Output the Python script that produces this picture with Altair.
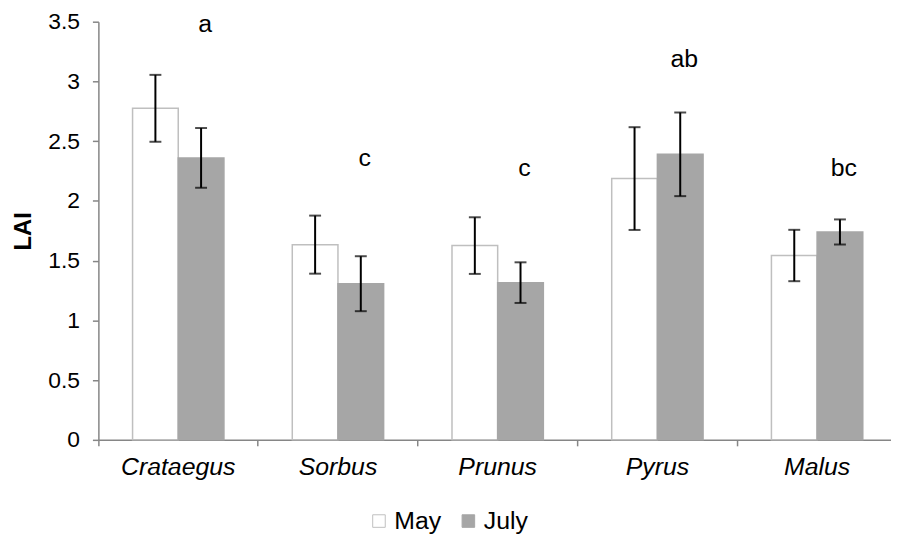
import altair as alt
import pandas as pd

categories = ["Crataegus", "Sorbus", "Prunus", "Pyrus", "Malus"]
series = ["May", "July"]
may_mean = [2.775, 1.634, 1.626, 2.187, 1.543]
may_err = [0.28, 0.243, 0.237, 0.43, 0.215]
july_mean = [2.36, 1.307, 1.316, 2.39, 1.74]
july_err = [0.25, 0.23, 0.17, 0.35, 0.105]
letters = ["a", "c", "c", "ab", "bc"]
letter_y = [3.41, 2.29, 2.21, 3.12, 2.21]
y_ticks = [0, 0.5, 1, 1.5, 2, 2.5, 3, 3.5]

rows = []
for i, c in enumerate(categories):
    for s, m, e in (("May", may_mean[i], may_err[i]), ("July", july_mean[i], july_err[i])):
        rows.append({"genus": c, "month": s, "lai": m, "lo": m - e, "hi": m + e})
df = pd.DataFrame(rows)
df_letters = pd.DataFrame({"genus": categories, "letter": letters, "ly": letter_y})

FONT = "Liberation Sans"
AX = "#868686"

xscale = alt.Scale(domain=categories, paddingInner=0.428, paddingOuter=0.214)
xoff = alt.XOffset("month:N", sort=series, scale=alt.Scale(domain=series, paddingInner=0, paddingOuter=0))
yscale = alt.Scale(domain=[0, 3.5], nice=False, zero=True)

x_labels = alt.X("genus:N", sort=categories, scale=xscale, title=None,
                 axis=alt.Axis(orient="bottom", labelAngle=0, labelFontStyle="italic",
                               labelFontSize=25, labelFont=FONT, labelColor="#000000",
                               ticks=False, labelPadding=15, domainColor=AX, domainWidth=1.5))
x_ticks = alt.X("genus:N", sort=categories, scale=xscale, title=None,
                axis=alt.Axis(orient="bottom", labels=False, domain=False, ticks=True,
                              tickSize=6, tickColor=AX, tickWidth=1.5, bandPosition=-0.374))
x_plain = alt.X("genus:N", sort=categories, scale=xscale, title=None, axis=None)

y_axis = alt.Axis(values=y_ticks, labelExpr="datum.value + ''", grid=False,
                  labelFontSize=23, labelFont=FONT, labelColor="#000000",
                  tickColor=AX, tickSize=6, tickWidth=1.5, domainColor=AX,
                  domainWidth=1.5, labelPadding=13, titleFont=FONT,
                  titleFontSize=24, titleFontWeight="bold", titleColor="#000000",
                  titlePadding=12)


def yq(field):
    return alt.Y(field, type="quantitative", scale=yscale, title="LAI", axis=y_axis)


bars = alt.Chart(df).mark_bar(strokeWidth=1.5).encode(
    x=x_labels,
    xOffset=xoff,
    y=yq("lai"),
    fill=alt.Fill("month:N", sort=series,
                  scale=alt.Scale(domain=series, range=["#ffffff", "#a6a6a6"]),
                  legend=alt.Legend(title=None, orient="none", direction="horizontal",
                                    legendX=270, legendY=490, symbolType="square",
                                    symbolSize=160, symbolStrokeColor="#a0a0a0",
                                    symbolStrokeWidth=1, labelFontSize=25, labelFont=FONT,
                                    labelColor="#000000", columnPadding=14, labelOffset=3)),
    stroke=alt.Stroke("month:N", sort=series,
                      scale=alt.Scale(domain=series, range=["#bfbfbf", "#a6a6a6"]),
                      legend=None),
)

tick_layer = alt.Chart(df).mark_bar(opacity=0).encode(
    x=x_ticks, xOffset=xoff, y=yq("lai")
)

rules = alt.Chart(df).mark_rule(color="#000000", strokeWidth=2).encode(
    x=x_plain,
    xOffset=xoff,
    y=yq("lo"),
    y2="hi:Q",
)
caps_lo = alt.Chart(df).mark_tick(color="#000000", thickness=2, size=12, orient="horizontal").encode(
    x=x_plain, xOffset=xoff, y=yq("lo"))
caps_hi = alt.Chart(df).mark_tick(color="#000000", thickness=2, size=12, orient="horizontal").encode(
    x=x_plain, xOffset=xoff, y=yq("hi"))

text = alt.Chart(df_letters).mark_text(font=FONT, fontSize=25, color="#000000",
                                       baseline="alphabetic", dx=27).encode(
    x=x_plain,
    y=yq("ly"),
    text="letter:N",
)

chart = alt.layer(bars, tick_layer, rules, caps_lo, caps_hi, text).resolve_axis(
    x="independent"
).properties(
    width=804, height=421,
    background="#ffffff",
    autosize=alt.AutoSizeParams(type="none"),
    padding={"left": 91, "top": 12, "right": -6, "bottom": 94},
).configure_view(stroke=None, strokeWidth=0)

chart.save("out.html", embed_options={"renderer": "svg", "actions": False})
